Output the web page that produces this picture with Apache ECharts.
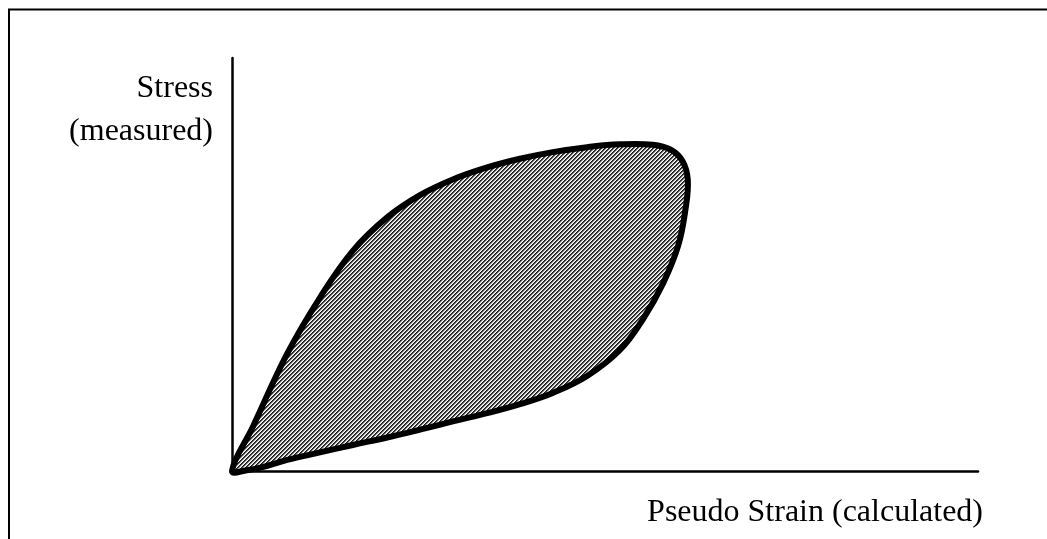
<!DOCTYPE html>
<html>
<head>
<meta charset="utf-8">
<script src="https://cdn.jsdelivr.net/npm/echarts@6/dist/echarts.min.js"></script>
<style>
html, body { margin: 0; padding: 0; background: #fff; }
#chart { width: 1047px; height: 539px; }
</style>
</head>
<body>
<div id="chart"></div>
<script>
// hysteresis loop (x = pseudo strain, y = stress, both 0..100)
// loading branch goes up, unloading branch comes back along the bottom
var loopX = [0, 2.8, 7.4, 11.8, 16.2, 20.8, 25.2, 29.6, 34.2, 38.6, 43.0, 47.6, 52.0, 56.4, 58.8, 60.4, 61.1,
             60.8, 59.8, 57.8, 55.1, 52.0, 47.6, 43.0, 38.6, 34.2, 29.6, 25.2, 20.8, 16.2, 11.8, 7.4, 3.8, 2.0];
var loopY = [0, 10.7, 28.4, 42.0, 53.3, 61.4, 66.8, 70.6, 73.5, 75.6, 77.2, 78.4, 79.1, 79.0, 77.8, 75.0, 70.5,
             63.5, 54.5, 45.5, 36.8, 29.3, 23.0, 18.9, 16.2, 14.0, 12.0, 10.0, 8.1, 6.3, 4.5, 2.7, 0.8, 0.2];

var yName = 'Stress\n(measured)';
var xName = 'Pseudo Strain (calculated)';

// small tile with "/" hatching
function hatch() {
    var c = document.createElement('canvas');
    c.width = 4; c.height = 4;
    var ctx = c.getContext('2d');
    var shades = ['#1a1a1a', '#4a4a4a', '#c4c4c4', '#ffffff'];
    for (var x = 0; x < 4; x++) {
        for (var y = 0; y < 4; y++) {
            ctx.fillStyle = shades[(x + y) % 4];
            ctx.fillRect(x, y, 1, 1);
        }
    }
    return c;
}

var points = loopX.map(function (x, i) { return [x, loopY[i]]; });
var pattern = { image: hatch(), repeat: 'repeat' };

var myChart = echarts.init(document.getElementById('chart'));
myChart.setOption({
    animation: false,
    grid: { left: 232, top: 58, right: 69, bottom: 68 },
    xAxis: {
        type: 'value', min: 0, max: 100,
        axisLine: { show: true, lineStyle: { color: '#000', width: 2.5 } },
        axisTick: { show: false }, axisLabel: { show: false }, splitLine: { show: false }
    },
    yAxis: {
        type: 'value', min: 0, max: 100,
        axisLine: { show: true, lineStyle: { color: '#000', width: 2.5 } },
        axisTick: { show: false }, axisLabel: { show: false }, splitLine: { show: false }
    },
    graphic: [
        // frame (only top and left edges are in the picture)
        { type: 'rect', shape: { x: 9, y: 9.5, width: 2000, height: 2000 },
          style: { fill: 'none', stroke: '#000', lineWidth: 2 }, silent: true },
        { type: 'text', x: 213, y: 110,
          style: { text: yName, font: '32px "Liberation Serif"', fill: '#000',
                   align: 'right', verticalAlign: 'middle', lineHeight: 43 } },
        { type: 'text', x: 983, y: 513,
          style: { text: xName, font: '32px "Liberation Serif"', fill: '#000',
                   align: 'right', verticalAlign: 'middle' } }
    ],
    series: [{
        type: 'custom',
        data: points,
        renderItem: function (params, api) {
            if (params.dataIndex !== 0) return;
            var pts = points.map(function (p) { return api.coord(p); });
            return {
                type: 'polygon',
                shape: { points: pts, smooth: 0.4 },
                style: { fill: pattern, stroke: '#000', lineWidth: 6, lineJoin: 'round' }
            };
        }
    }]
});
</script>
</body>
</html>
